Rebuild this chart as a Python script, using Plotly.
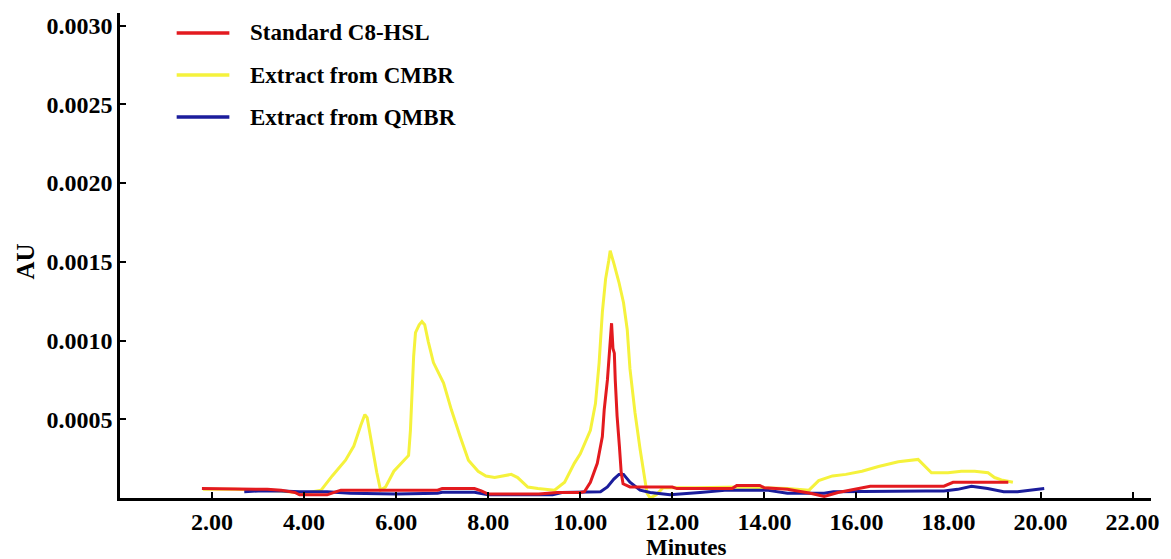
import plotly.graph_objects as go

# Retention time (minutes) and absorbance (AU) for each chromatogram
std_t = [1.78, 2.5, 3.2, 3.5, 3.8, 3.9, 4.5, 4.7, 4.8, 5.5, 6.0, 6.9, 7.0, 7.7, 7.85, 8.0,
         9.1, 9.5, 10.0, 10.09, 10.22, 10.37, 10.48, 10.52, 10.59, 10.64, 10.68, 10.71,
         10.74, 10.76, 10.8, 10.85, 10.89, 10.93, 11.08, 11.38, 12.0, 12.1, 13.3, 13.4,
         13.9, 14.0, 14.5, 15.0, 15.3, 15.6, 16.0, 16.3, 17.0, 17.9, 18.1, 18.8, 19.3]
std_au = [6e-5, 5.8e-5, 5.5e-5, 5e-5, 3.5e-5, 2e-5, 2e-5, 4e-5, 5e-5, 5e-5, 5e-5, 5e-5,
          6e-5, 6e-5, 4.5e-5, 2.5e-5, 2.5e-5, 3.5e-5, 3.5e-5, 4e-5, 1e-4, 2.2e-4, 3.9e-4,
          5.6e-4, 7.5e-4, 9.6e-4, 1.11e-3, 9.5e-4, 9.2e-4, 7.5e-4, 5.2e-4, 3.3e-4, 1.6e-4,
          9e-5, 7e-5, 7e-5, 7e-5, 6e-5, 6e-5, 8e-5, 8e-5, 6.5e-5, 5.5e-5, 3e-5, 1e-5,
          3.5e-5, 6e-5, 7.5e-5, 7.5e-5, 7.5e-5, 1e-4, 1e-4, 1e-4]

cmbr_t = [1.8, 2.5, 3.5, 4.0, 4.37, 4.61, 4.9, 5.08, 5.23, 5.32, 5.37, 5.47, 5.58, 5.66,
          5.77, 5.95, 6.16, 6.27, 6.31, 6.34, 6.38, 6.42, 6.5, 6.56, 6.62, 6.7, 6.81, 7.03,
          7.2, 7.39, 7.57, 7.78, 7.95, 8.14, 8.4, 8.5, 8.64, 8.86, 9.08, 9.44, 9.66, 9.87,
          10.0, 10.22, 10.33, 10.41, 10.48, 10.55, 10.62, 10.65, 10.73, 10.84, 10.94, 11.02,
          11.08, 11.19, 11.3, 11.38, 11.45, 11.52, 11.65, 11.8, 12.5, 13.5, 14.5, 14.97,
          15.18, 15.48, 15.77, 16.12, 16.48, 16.91, 17.2, 17.34, 17.63, 17.99, 18.28, 18.57,
          18.86, 19.0, 19.15, 19.4]
cmbr_au = [5.5e-5, 5.5e-5, 4.5e-5, 3e-5, 5e-5, 1.4e-4, 2.4e-4, 3.3e-4, 4.6e-4, 5.3e-4,
           5.1e-4, 3.3e-4, 1.6e-4, 5e-5, 7e-5, 1.7e-4, 2.4e-4, 2.7e-4, 4.3e-4, 6.9e-4,
           9e-4, 1.05e-3, 1.1e-3, 1.12e-3, 1.1e-3, 9.9e-4, 8.6e-4, 7.3e-4, 5.6e-4, 3.9e-4,
           2.4e-4, 1.7e-4, 1.4e-4, 1.3e-4, 1.45e-4, 1.5e-4, 1.3e-4, 7e-5, 6e-5, 5e-5, 1e-4,
           2.2e-4, 2.8e-4, 4.3e-4, 6e-4, 8.6e-4, 1.18e-3, 1.39e-3, 1.51e-3, 1.57e-3, 1.49e-3,
           1.37e-3, 1.24e-3, 1.07e-3, 8.2e-4, 5.4e-4, 3.1e-4, 1.6e-4, 3e-5, 0.0, 2e-5,
           6.5e-5, 6.5e-5, 7e-5, 6e-5, 5e-5, 1.1e-4, 1.4e-4, 1.5e-4, 1.7e-4, 2e-4, 2.3e-4,
           2.4e-4, 2.45e-4, 1.6e-4, 1.6e-4, 1.7e-4, 1.7e-4, 1.6e-4, 1.3e-4, 1.15e-4, 1e-4]

qmbr_t = [2.7, 3.0, 3.5, 3.9, 4.5, 4.8, 5.0, 6.0, 6.9, 7.0, 7.7, 8.0, 9.4, 9.6, 10.2,
          10.44, 10.59, 10.73, 10.84, 10.94, 11.08, 11.3, 11.52, 11.95, 12.6, 13.2, 14.05,
          14.5, 15.3, 15.5, 17.5, 17.9, 18.2, 18.5, 18.85, 19.2, 19.5, 19.87, 20.08]
qmbr_au = [4e-5, 4.5e-5, 4.5e-5, 4e-5, 4e-5, 3.5e-5, 3e-5, 2.5e-5, 3e-5, 3.7e-5, 3.7e-5,
           2e-5, 2e-5, 3.5e-5, 4e-5, 4e-5, 7e-5, 1.2e-4, 1.5e-4, 1.5e-4, 1e-4, 5e-5, 3.5e-5,
           2e-5, 3.5e-5, 5e-5, 5e-5, 3e-5, 3e-5, 4e-5, 4.5e-5, 4.5e-5, 5.5e-5, 7.5e-5, 6e-5,
           4e-5, 4e-5, 5.5e-5, 6e-5]

series_names = ["Standard C8-HSL", "Extract from CMBR", "Extract from QMBR"]
series_colors = ["#e31a1f", "#f5f23c", "#1b1d9c"]

x_ticks = [2, 4, 6, 8, 10, 12, 14, 16, 18, 20, 22]
y_ticks = [0.0005, 0.0010, 0.0015, 0.0020, 0.0025, 0.0030]

FONT = "Liberation Serif"
W, H = 1171, 559
L, R, T, B = 120, 14, 13, 61
plot_w, plot_h = W - L - R, H - T - B


def px_x(p):
    return (p - L) / plot_w


def px_y(p):
    return (H - B - p) / plot_h


fig = go.Figure()

# yellow drawn first, then blue, red on top
draw_order = [(1, cmbr_t, cmbr_au), (2, qmbr_t, qmbr_au), (0, std_t, std_au)]
for idx, t, au in draw_order:
    fig.add_trace(go.Scatter(
        x=t, y=au, mode="lines", name=series_names[idx],
        line=dict(color=series_colors[idx], width=3),
        showlegend=False,
    ))

# legend drawn as line samples with labels
legend_rows = [33, 75, 117]
for i, name in enumerate(series_names):
    fig.add_shape(type="line", xref="paper", yref="paper",
                  x0=px_x(177), x1=px_x(230), y0=px_y(legend_rows[i]), y1=px_y(legend_rows[i]),
                  line=dict(color=series_colors[i], width=3.5))
    fig.add_annotation(xref="paper", yref="paper", x=px_x(249), y=px_y(legend_rows[i]),
                       text=name, showarrow=False, xanchor="left", yanchor="middle",
                       font=dict(family=FONT, size=23, color="black", weight="bold"))

fig.add_annotation(xref="paper", yref="paper", x=px_x(690), y=px_y(547), text="Minutes",
                   showarrow=False, xanchor="center", yanchor="middle",
                   font=dict(family=FONT, size=23, color="black", weight="bold"))
fig.add_annotation(xref="paper", yref="paper", x=px_x(24), y=px_y(262), text="AU",
                   showarrow=False, textangle=-90, xanchor="center", yanchor="middle",
                   font=dict(family=FONT, size=25, color="black", weight="bold"))

axis_common = dict(
    showline=True, linecolor="black", linewidth=2.5, mirror=False,
    ticks="inside", ticklen=6, tickwidth=2, tickcolor="black",
    showgrid=False, zeroline=False,
    tickfont=dict(family=FONT, size=24, color="black", weight="bold"),
)

fig.update_layout(
    width=W, height=H,
    margin=dict(l=L, r=R, t=T, b=B),
    paper_bgcolor="white", plot_bgcolor="white",
    xaxis=dict(range=[0, 22.4], tickvals=x_ticks,
               ticktext=[f"{v:.2f}" for v in x_ticks], **axis_common),
    yaxis=dict(range=[0, 0.00308], tickvals=y_ticks,
               ticktext=[f"{v:.4f}" for v in y_ticks], **axis_common),
)

fig.write_html("out.html")
